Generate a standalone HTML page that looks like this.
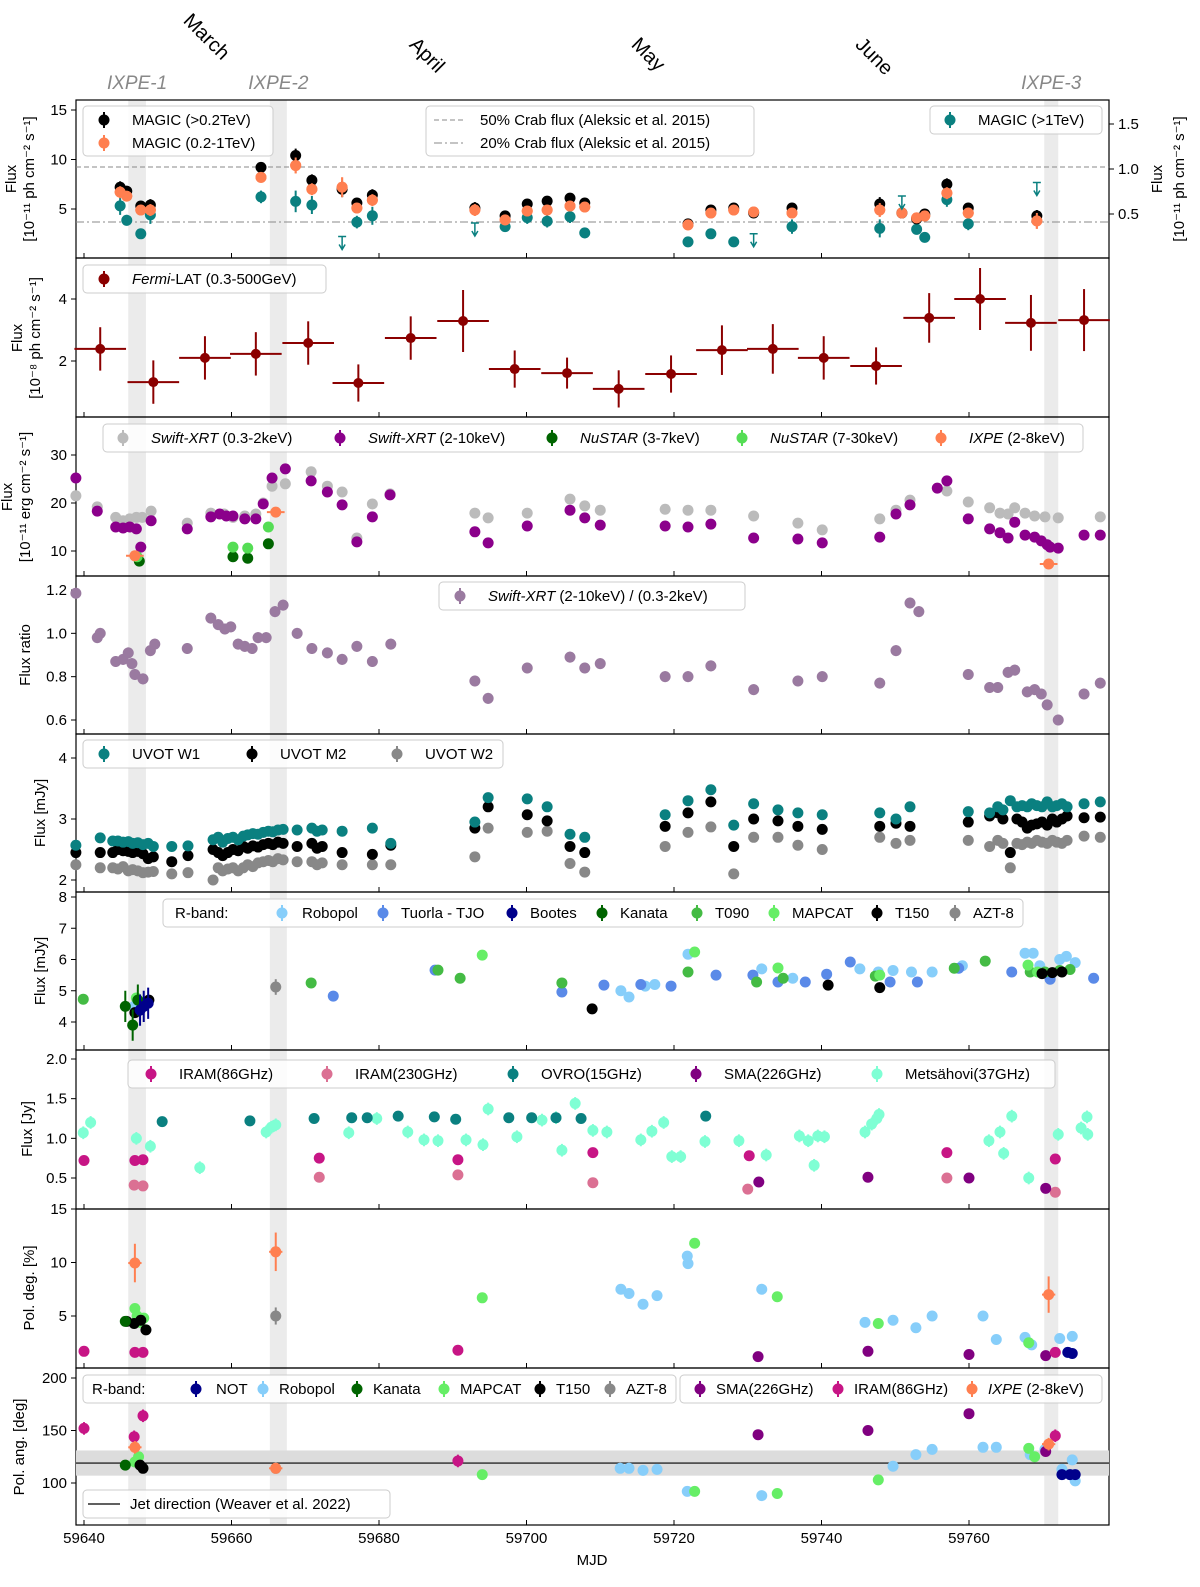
<!DOCTYPE html>
<html><head><meta charset="utf-8"><style>
body{margin:0;background:#fff}
svg{display:block;font-family:"Liberation Sans","DejaVu Sans",sans-serif}
</style></head><body>
<svg id="chart" width="1200" height="1587" viewBox="0 0 1200 1587" xmlns="http://www.w3.org/2000/svg"></svg>
<script>
// ---- data (MJD, value, error) ----
const magicHigh=[[59644.9,7.2,0.6],[59645.8,6.8,0.5],[59647.7,5.3,0.5],[59649.0,5.4,0.6],[59664.0,9.2,0.5],[59668.7,10.4,0.7],[59670.9,7.9,0.6],[59675.0,7.0,0.8],[59677.0,5.6,0.5],[59679.1,6.4,0.6],[59693.0,5.1,0.6],[59697.1,4.3,0.5],[59700.1,5.5,0.5],[59702.8,5.8,0.5],[59705.9,6.1,0.5],[59707.9,5.6,0.5],[59721.9,3.5,0.4],[59725.0,4.9,0.4],[59728.1,5.1,0.4],[59730.8,4.6,0.4],[59736.0,5.1,0.5],[59747.9,5.5,0.7],[59750.9,4.6,0.5],[59752.9,4.0,0.5],[59754.0,4.5,0.5],[59757.0,7.5,0.6],[59759.9,5.1,0.5],[59769.2,4.3,0.6]];
const magicLow=[[59644.9,6.7,0.6],[59645.8,6.3,0.5],[59647.7,4.9,0.5],[59649.0,4.9,0.6],[59664.0,8.2,0.5],[59668.7,9.4,0.8],[59670.9,7.0,0.6],[59675.0,7.2,1.0],[59677.0,5.1,0.5],[59679.1,5.9,0.6],[59693.0,4.9,0.6],[59697.1,3.9,0.5],[59700.1,4.8,0.5],[59702.8,4.9,0.5],[59705.9,5.3,0.5],[59707.9,5.2,0.5],[59721.9,3.4,0.4],[59725.0,4.6,0.4],[59728.1,4.9,0.4],[59730.8,4.7,0.4],[59736.0,4.6,0.5],[59747.9,4.9,0.7],[59750.9,4.6,0.5],[59752.9,4.1,0.5],[59754.0,4.3,0.5],[59757.0,6.6,0.6],[59759.9,4.6,0.5],[59769.2,3.8,0.8]];
const magicVhe=[[59644.9,0.59,0.1],[59645.8,0.43,0.06],[59647.7,0.28,0.04],[59649.0,0.49,0.1],[59664.0,0.69,0.07],[59668.7,0.64,0.12],[59670.9,0.60,0.1],[59677.0,0.41,0.07],[59679.1,0.48,0.1],[59697.1,0.36,0.06],[59700.1,0.46,0.07],[59702.8,0.42,0.07],[59705.9,0.47,0.07],[59707.9,0.29,0.06],[59721.9,0.19,0.05],[59725.0,0.28,0.05],[59728.1,0.19,0.04],[59736.0,0.36,0.08],[59747.9,0.34,0.1],[59752.9,0.33,0.06],[59754.0,0.24,0.05],[59757.0,0.66,0.08],[59759.9,0.39,0.07]];
const magicVheUL=[[59675.0,0.25],[59693.0,0.40],[59730.8,0.28],[59750.9,0.70],[59769.2,0.85]];
const fermi=[[59642.2,2.39,0.7],[59649.4,1.32,0.7],[59656.4,2.1,0.7],[59663.3,2.23,0.7],[59670.4,2.58,0.7],[59677.2,1.29,0.6],[59684.3,2.74,0.7],[59691.4,3.29,1.0],[59698.4,1.74,0.6],[59705.5,1.61,0.5],[59712.5,1.1,0.6],[59719.6,1.58,0.6],[59726.5,2.35,0.8],[59733.4,2.39,0.8],[59740.3,2.1,0.7],[59747.4,1.84,0.6],[59754.6,3.39,0.8],[59761.5,4.0,1.0],[59768.4,3.23,0.9],[59775.6,3.32,1.0]];
const fermiHalfWidth=3.5;
const xrtSoft=[[59638.9,21.5],[59641.8,19.2],[59644.3,17],[59645.3,16.3],[59646.2,16.7],[59647.1,17],[59647.9,17],[59649.1,18.3],[59654.0,15.8],[59657.2,17.9],[59659.0,17.7],[59660.2,17],[59661.8,17.3],[59663.3,17.7],[59664.3,20],[59665.5,23.5],[59667.3,24],[59670.8,26.5],[59673.0,23.5],[59675.0,22.3],[59677.0,12.7],[59679.1,19.8],[59681.5,21.9],[59693.0,17.9],[59694.8,16.9],[59700.1,17.9],[59705.9,20.8],[59707.9,19.4],[59710.0,18.5],[59718.8,18.7],[59721.9,18.5],[59725.0,18.5],[59730.8,17.3],[59736.8,15.8],[59740.1,14.4],[59747.9,16.7],[59750.1,18.5],[59752.0,20.6],[59757.0,22.5],[59759.9,20.2],[59762.8,19],[59764.2,17.9],[59765.3,17.7],[59766.2,19],[59767.6,17.9],[59768.9,17.3],[59770.3,17.1],[59772.1,16.9],[59777.8,17.1]];
const xrtHard=[[59638.9,25.2],[59641.8,18.3],[59644.3,15],[59645.3,14.8],[59646.2,15],[59647.1,14.6],[59647.7,10.8],[59649.1,16.3],[59654.0,14.6],[59657.2,17.1],[59658.4,17.7],[59659.3,17.3],[59660.2,17.3],[59661.8,16.7],[59663.3,16.7],[59664.3,19.8],[59665.5,25.2],[59667.3,27.1],[59670.8,24.6],[59673.0,22.3],[59675.0,19.6],[59677.0,11.9],[59679.1,17.1],[59681.5,21.7],[59693.0,14],[59694.8,11.7],[59700.1,15.2],[59705.9,18.5],[59707.9,16.9],[59710.0,15.4],[59718.8,15.2],[59721.9,15],[59725.0,15.6],[59730.8,12.7],[59736.8,12.5],[59740.1,11.7],[59747.9,12.9],[59750.1,17.7],[59752.0,19.6],[59755.7,23.1],[59757.0,24.6],[59759.9,16.7],[59762.8,14.6],[59764.2,13.8],[59765.3,12.7],[59766.2,16],[59767.6,13.3],[59768.9,12.9],[59769.8,12.1],[59770.6,11.3],[59771.0,10.8],[59772.1,10.6],[59775.6,13.3],[59777.8,13.3]];
const nustarSoft=[[59647.5,7.9],[59660.2,8.8],[59662.2,8.5],[59665.0,11.5]];
const nustarHard=[[59647.2,8.8],[59660.2,10.8],[59662.2,10.6],[59665.0,15]];
const ixpeFlux=[[59646.9,9.0],[59666.0,18.1],[59770.8,7.3]];
const hardness=[[59638.9,1.185],[59641.8,0.98],[59642.2,1.0],[59644.3,0.87],[59645.3,0.88],[59646.0,0.91],[59646.5,0.86],[59646.9,0.81],[59648.0,0.79],[59649.0,0.92],[59649.6,0.95],[59654.0,0.93],[59657.2,1.07],[59658.2,1.04],[59659.1,1.02],[59659.9,1.03],[59660.9,0.95],[59661.8,0.94],[59662.8,0.93],[59663.6,0.98],[59664.7,0.98],[59665.9,1.1],[59667.0,1.13],[59668.9,1.0],[59670.9,0.93],[59673.0,0.91],[59675.0,0.88],[59677.0,0.94],[59679.1,0.87],[59681.6,0.95],[59693.0,0.78],[59694.8,0.70],[59700.1,0.84],[59705.9,0.89],[59707.9,0.84],[59710.0,0.86],[59718.8,0.80],[59721.9,0.80],[59725.0,0.85],[59730.8,0.74],[59736.8,0.78],[59740.1,0.80],[59747.9,0.77],[59750.1,0.92],[59752.0,1.14],[59753.2,1.1],[59759.9,0.81],[59762.8,0.75],[59763.9,0.75],[59765.3,0.82],[59766.2,0.83],[59767.9,0.73],[59768.9,0.74],[59769.8,0.72],[59770.6,0.67],[59772.1,0.60],[59775.6,0.72],[59777.8,0.77]];
const uvotMjd=[59638.9,59642.2,59643.9,59644.6,59645.3,59646.0,59646.6,59647.3,59648.0,59648.7,59649.4,59651.9,59654.1,59657.5,59658.2,59658.8,59659.5,59660.2,59660.9,59661.6,59662.2,59662.9,59663.6,59664.3,59665.0,59665.6,59666.3,59667.0,59668.9,59670.9,59671.6,59672.3,59675.0,59679.1,59681.6,59693.0,59694.8,59700.1,59702.8,59705.9,59707.9,59718.8,59721.9,59725.0,59728.1,59730.8,59734.1,59736.8,59740.1,59747.9,59750.1,59752.0,59759.9,59762.8,59763.9,59764.6,59765.6,59766.5,59767.2,59767.9,59768.5,59769.2,59769.9,59770.6,59771.3,59771.9,59772.6,59773.3,59775.6,59777.8];
const uvotW1=[2.57,2.69,2.64,2.64,2.62,2.63,2.6,2.61,2.58,2.6,2.55,2.55,2.56,2.66,2.7,2.62,2.68,2.7,2.66,2.72,2.74,2.76,2.75,2.78,2.8,2.79,2.82,2.83,2.82,2.85,2.8,2.82,2.8,2.85,2.6,2.95,3.35,3.33,3.2,2.75,2.7,3.07,3.3,3.48,2.9,3.25,3.15,3.1,3.07,3.1,3.0,3.2,3.12,3.1,3.2,3.15,3.3,3.2,3.22,3.2,3.25,3.22,3.2,3.28,3.2,3.22,3.25,3.2,3.25,3.28];
const uvotM2=[2.45,2.45,2.45,2.5,2.48,2.47,2.45,2.47,2.43,2.35,2.38,2.3,2.4,2.5,2.45,2.4,2.45,2.5,2.48,2.55,2.52,2.56,2.54,2.58,2.6,2.58,2.62,2.6,2.55,2.6,2.52,2.55,2.45,2.42,2.57,2.85,3.2,3.07,2.97,2.55,2.45,2.88,3.1,3.28,2.55,3.0,2.97,2.88,2.83,2.88,2.93,2.88,2.95,3.05,3.1,3.0,2.45,3.0,2.95,2.85,2.9,2.92,2.95,2.9,3.0,2.95,3.0,3.05,3.02,3.03];
const uvotW2=[2.25,2.2,2.2,2.18,2.22,2.15,2.17,2.15,2.12,2.13,2.14,2.1,2.12,2.0,2.2,2.15,2.18,2.2,2.15,2.2,2.25,2.22,2.28,2.3,2.32,2.3,2.35,2.33,2.3,2.3,2.25,2.28,2.25,2.25,2.25,2.38,2.85,2.78,2.8,2.27,2.13,2.55,2.78,2.87,2.1,2.7,2.7,2.57,2.5,2.7,2.6,2.65,2.65,2.55,2.65,2.6,2.2,2.6,2.58,2.62,2.6,2.65,2.62,2.6,2.65,2.62,2.6,2.65,2.72,2.7];
const rRobopol=[[59646.8,4.5],[59712.8,5.0],[59713.9,4.8],[59716.1,5.15],[59717.4,5.2],[59721.9,6.17],[59731.9,5.7],[59736.1,5.4],[59745.2,5.7],[59747.7,5.6],[59749.7,5.65],[59752.2,5.6],[59755.0,5.6],[59759.1,5.8],[59767.6,6.2],[59768.7,6.2],[59769.6,5.8],[59772.3,6.0],[59773.2,6.1],[59774.4,5.9]];
const rTuorla=[[59673.8,4.83],[59687.6,5.66],[59704.8,4.96],[59710.5,5.18],[59715.5,5.2],[59719.6,5.15],[59725.7,5.5],[59730.7,5.5],[59734.1,5.28],[59737.8,5.28],[59740.7,5.53],[59743.9,5.92],[59749.3,5.28],[59753.0,5.28],[59758.6,5.72],[59765.8,5.6],[59771.0,5.37],[59776.9,5.4]];
const rBootes=[[59647.6,4.38],[59648.1,4.5],[59648.7,4.6]];
const rKanata=[[59645.6,4.5],[59646.6,3.9],[59647.3,4.7]];
const rT090=[[59639.9,4.73],[59670.8,5.25],[59688.0,5.66],[59691.0,5.4],[59704.8,5.25],[59721.9,5.6],[59731.2,5.28],[59734.8,5.4],[59747.3,5.47],[59758.0,5.72],[59762.2,5.95],[59768.3,5.6],[59770.3,5.6],[59772.3,5.65],[59773.7,5.68]];
const rMapcat=[[59647.1,4.77],[59694.0,6.14],[59722.8,6.24],[59734.1,5.73],[59747.9,5.5],[59768.0,5.82],[59769.3,5.6]];
const rT150=[[59646.9,4.3],[59648.8,4.7],[59708.9,4.42],[59740.9,5.18],[59747.9,5.1],[59769.9,5.55],[59771.3,5.58],[59772.6,5.6]];
const rAzt=[[59666.0,5.12]];
const iram86=[[59640.0,0.72],[59646.9,0.72],[59648.0,0.73],[59671.9,0.75],[59690.7,0.73],[59709.0,0.82],[59730.2,0.78],[59757.0,0.82],[59771.7,0.74]];
const iram230=[[59646.8,0.41],[59648.0,0.40],[59671.9,0.51],[59690.7,0.54],[59709.0,0.44],[59730.0,0.36],[59757.0,0.50],[59771.7,0.32]];
const ovro=[[59650.6,1.21],[59662.5,1.22],[59671.2,1.25],[59676.3,1.26],[59678.4,1.26],[59682.6,1.28],[59687.5,1.27],[59690.4,1.24],[59697.6,1.26],[59700.7,1.26],[59704.0,1.26],[59707.4,1.25],[59724.3,1.28]];
const sma=[[59731.5,0.45],[59746.3,0.51],[59760.0,0.5],[59770.4,0.37]];
const metsahovi=[[59639.9,1.07],[59640.9,1.2],[59647.1,1.0],[59649.0,0.9],[59655.7,0.63],[59664.7,1.08],[59665.4,1.14],[59666.0,1.17],[59675.9,1.07],[59679.7,1.25],[59683.9,1.08],[59686.1,0.98],[59688.0,0.97],[59691.8,0.98],[59694.1,0.92],[59694.8,1.37],[59698.7,1.02],[59702.1,1.23],[59704.0,1.26],[59704.8,0.85],[59706.6,1.44],[59709.0,1.1],[59710.9,1.08],[59715.5,0.98],[59717.0,1.09],[59718.6,1.2],[59719.7,0.77],[59720.9,0.77],[59724.2,0.96],[59728.8,0.97],[59732.5,0.79],[59737.0,1.03],[59738.2,0.97],[59739.0,0.66],[59739.5,1.03],[59740.4,1.02],[59745.9,1.08],[59746.8,1.18],[59747.5,1.25],[59747.8,1.3],[59762.7,0.97],[59764.2,1.08],[59764.7,0.81],[59765.8,1.28],[59768.1,0.5],[59772.1,1.05],[59775.2,1.13],[59776.0,1.27],[59776.1,1.05]];
const pdIxpe=[[59646.9,9.95,1.8],[59666.0,11.0,1.8],[59770.8,7.0,1.7]];
const pdAzt=[[59666.0,5.0]];
const pdRobopol=[[59712.8,7.5],[59713.9,7.1],[59715.8,6.1],[59717.7,6.9],[59721.8,10.6],[59721.9,9.9],[59731.9,7.5],[59745.9,4.4],[59749.7,4.6],[59752.8,3.9],[59755.0,5.0],[59761.9,5.0],[59763.7,2.8],[59767.6,3.0],[59768.5,2.3],[59772.3,2.9],[59774.0,3.1],[59773.4,1.6]];
const pdMapcat=[[59646.9,5.7],[59647.2,5.0],[59647.6,4.4],[59648.1,4.8],[59694.0,6.7],[59722.8,11.8],[59734.0,6.8],[59747.7,4.3],[59768.1,2.5]];
const pdT150=[[59645.8,4.5],[59646.8,4.3],[59647.7,4.6],[59648.4,3.7]];
const pdKanata=[[59645.6,4.5]];
const pdSma=[[59731.4,1.2],[59746.3,1.7],[59760.0,1.4],[59770.4,1.3]];
const pdIram=[[59640.0,1.7],[59646.9,1.6],[59648.0,1.6],[59690.7,1.8],[59771.7,1.6]];
const pdNot=[[59773.4,1.6],[59774.0,1.5]];
const paIxpe=[[59646.9,134,6],[59666.0,114,3],[59770.8,137,6]];
const paIram=[[59640.0,152],[59646.8,144],[59648.0,164],[59690.7,121],[59771.7,145]];
const paSma=[[59731.4,146],[59746.3,150],[59760.0,166],[59770.4,130]];
const paRobopol=[[59712.7,114],[59713.9,114],[59715.8,112],[59717.7,113],[59721.8,92],[59731.9,88],[59749.7,116],[59752.8,127],[59755.0,132],[59761.9,134],[59763.7,134],[59768.3,127],[59770.3,132],[59772.6,113],[59773.7,108],[59774.4,102],[59774.0,122]];
const paMapcat=[[59646.9,120],[59647.4,125],[59694.0,108],[59722.8,92],[59734.0,90],[59747.7,103],[59768.1,133],[59768.9,125]];
const paKanata=[[59645.6,117]];
const paT150=[[59647.6,117],[59648.0,114]];
const paAzt=[[59666.0,114]];
const paNot=[[59772.6,108],[59773.7,108],[59774.4,108]];
const jetAngle=119, jetBand=12;
const xTicks=[59640,59660,59680,59700,59720,59740,59760];
const ixpeWindows=[[59646.0,59648.4,"IXPE-1"],[59665.2,59667.5,"IXPE-2"],[59770.2,59772.1,"IXPE-3"]];

// ---- drawing ----
const NS="http://www.w3.org/2000/svg";
const svg=document.getElementById('chart');
const X0=76,X1=1109;
function X(m){return 84+(m-59640)*7.375;}
function lin(v0,p0,v1,p1){return v=>p0+(v-v0)*(p1-p0)/(v1-v0);}
function el(tag,attrs,parent){const e=document.createElementNS(NS,tag);for(const k in attrs)e.setAttribute(k,attrs[k]);(parent||svg).appendChild(e);return e;}
function txt(x,y,s,attrs,parent){const t=el('text',Object.assign({x:x,y:y,'font-size':15,fill:'#000'},attrs||{}),parent);t.textContent=s;return t;}

const panels=[
 {top:100,bot:258,name:'magic-panel',y:lin(5,209,15,110),ticks:[5,10,15]},
 {top:258,bot:417,name:'fermi-panel',y:lin(2,361,4,299),ticks:[2,4]},
 {top:417,bot:576,name:'xray-panel',y:lin(10,551,30,455),ticks:[10,20,30]},
 {top:576,bot:734,name:'ratio-panel',y:lin(0.6,720,1.2,590),ticks:[0.6,0.8,1.0,1.2],fmt:1},
 {top:734,bot:892,name:'uvot-panel',y:lin(2,880,4,758),ticks:[2,3,4]},
 {top:892,bot:1050,name:'rband-panel',y:lin(4,1022,8,897),ticks:[4,5,6,7,8]},
 {top:1050,bot:1209,name:'radio-panel',y:lin(0.5,1178,2.0,1059),ticks:[0.5,1.0,1.5,2.0],fmt:1},
 {top:1209,bot:1368,name:'poldeg-panel',y:lin(5,1316,15,1209),ticks:[5,10,15]},
 {top:1368,bot:1525,name:'polang-panel',y:lin(100,1483,200,1378),ticks:[100,150,200]}
];
ixpeWindows.forEach(w=>{
 const b=el('rect',{x:X(w[0]),y:100,width:X(w[1])-X(w[0]),height:1425,fill:'#ebebeb'});
 
 
 const t=txt((X(w[0])+X(w[1]))/2,89,w[2],{'font-size':19,'font-style':'italic',fill:'#888','text-anchor':'middle'});
 
 
});
[["March",192,12],["April",418,36],["May",640,36],["June",864,36]].forEach(m=>{
 const t=txt(m[1],m[2],m[0],{'font-size':20,transform:`rotate(45 ${m[1]} ${m[2]})`,'dominant-baseline':'hanging'});
 
 
});
panels.forEach((p,i)=>{
 const g=el('g',{});
 
 
 p.g=g;
 el('rect',{x:X0,y:p.top,width:X1-X0,height:p.bot-p.top,fill:'none',stroke:'#000','stroke-width':1.2},g);
 p.ticks.forEach(v=>{const yy=p.y(v);el('line',{x1:X0-5,x2:X0,y1:yy,y2:yy,stroke:'#000'},g);
  const t=txt(X0-9,yy+5,p.fmt?v.toFixed(1):String(v),{'text-anchor':'end'},g);
  
  });
 xTicks.forEach(m=>{el('line',{x1:X(m),x2:X(m),y1:p.bot,y2:p.bot-5,stroke:'#000'},g);});
});
xTicks.forEach(m=>{const t=txt(X(m),1543,String(m),{'text-anchor':'middle'});
 
 });
const xl=txt(592,1565,'MJD',{'text-anchor':'middle'});


function ytitle(cy,lines,xs,name){lines.forEach((s,i)=>{const x=xs[i];const t=txt(x,cy,s,{'text-anchor':'middle',transform:`rotate(-90 ${x} ${cy})`});
 
 });}
ytitle(179,['Flux','[10⁻¹¹ ph cm⁻² s⁻¹]'],[16,34],'y-axis-title-magic');
ytitle(338,['Flux','[10⁻⁸ ph cm⁻² s⁻¹]'],[22,40],'y-axis-title-fermi');
ytitle(497,['Flux','[10⁻¹¹ erg cm⁻² s⁻¹]'],[12,30],'y-axis-title-xray');
ytitle(655,['Flux ratio'],[30],'y-axis-title-ratio');
ytitle(813,['Flux [mJy]'],[45],'y-axis-title-uvot');
ytitle(971,['Flux [mJy]'],[45],'y-axis-title-rband');
ytitle(1129,['Flux [Jy]'],[32],'y-axis-title-radio');
ytitle(1288,['Pol. deg. [%]'],[34],'y-axis-title-poldeg');
ytitle(1447,['Pol. ang. [deg]'],[24],'y-axis-title-polang');
ytitle(179,['Flux','[10⁻¹¹ ph cm⁻² s⁻¹]'],[1162,1184],'y-axis-title-right');
const yR=lin(0.5,214,1.5,124);
[0.5,1.0,1.5].forEach(v=>{el('line',{x1:X1,x2:X1+5,y1:yR(v),y2:yR(v),stroke:'#000'});
 const t=txt(X1+9,yR(v)+5,v.toFixed(1));
 
 });
const crab50=el('line',{x1:X0,x2:X1,y1:167,y2:167,stroke:'#888','stroke-dasharray':'5,3'});


const crab20=el('line',{x1:X0,x2:X1,y1:222,y2:222,stroke:'#888','stroke-dasharray':'8,3,2,3'});


const jb=el('rect',{x:X0,y:panels[8].y(jetAngle+jetBand),width:X1-X0,height:panels[8].y(jetAngle-jetBand)-panels[8].y(jetAngle+jetBand),fill:'#dcdcdc'});


const jl=el('line',{x1:X0,x2:X1,y1:panels[8].y(jetAngle),y2:panels[8].y(jetAngle),stroke:'#000','stroke-width':1.2});



function series(pi,data,color,name,defErr,ys,xerr){
 const p=panels[pi];const yf=ys||p.y;
 data.forEach(d=>{
  const cx=X(d[0]),cy=yf(d[1]);const e=d.length>2?d[2]:defErr;
  if(e){el('line',{x1:cx,x2:cx,y1:yf(d[1]-e),y2:yf(d[1]+e),stroke:color,'stroke-width':2});}
  if(xerr){el('line',{x1:X(d[0]-xerr),x2:X(d[0]+xerr),y1:cy,y2:cy,stroke:color,'stroke-width':2});}
  const c=el('circle',{cx:cx,cy:cy,r:pi==1?5:5.5,fill:color});
  
  
 });
}
const C={black:'#000',orange:'#ff7f50',teal:'#0a8080',dred:'#8b0000',lgrey:'#bbb',purple:'#8b008b',dgreen:'#006400',lgreen:'#55dd55',mauve:'#9a7aa0',grey:'#888',lblue:'#87cefa',blue:'#5a8ae8',navy:'#00008b',green:'#44bb44',mgreen:'#66ee66',magenta:'#c71585',pink:'#db7093',mint:'#7fffd4',dpurple:'#800080'};
series(0,magicVhe,C.teal,'magic-1tev-point',0,yR);
series(0,magicLow,C.orange,'magic-0.2-1tev-point');
series(0,magicHigh,C.black,'magic-0.2tev-point');
series(0,magicLow,C.orange,'magic-0.2-1tev-point',0.0001);
magicVheUL.forEach(d=>{const cx=X(d[0]),cy=yR(d[1]);
 const a=el('path',{d:`M${cx-4} ${cy}H${cx+4}M${cx} ${cy}V${cy+12}M${cx-3} ${cy+8}L${cx} ${cy+13}L${cx+3} ${cy+8}`,stroke:C.teal,'stroke-width':1.5,fill:'none'});
 
 });
series(1,fermi,C.dred,'fermi-point',0,null,fermiHalfWidth);
series(2,xrtSoft,C.lgrey,'xrt-soft-point',0.3);
series(2,xrtHard,C.purple,'xrt-hard-point',0.3);
series(2,nustarSoft,C.dgreen,'nustar-soft-point',0.2);
series(2,nustarHard,C.lgreen,'nustar-hard-point',0.2);
series(2,ixpeFlux,C.orange,'ixpe-flux-point',0.3,null,1.2);
series(3,hardness,C.mauve,'hardness-ratio-point',0.025);
const w2=uvotMjd.map((m,i)=>[m,uvotW2[i]]),m2=uvotMjd.map((m,i)=>[m,uvotM2[i]]),w1=uvotMjd.map((m,i)=>[m,uvotW1[i]]);
series(4,w2,C.grey,'uvot-w2-point',0.05);
series(4,m2,C.black,'uvot-m2-point',0.05);
series(4,w1,C.teal,'uvot-w1-point',0.05);
series(5,rRobopol,C.lblue,'robopol-flux-point',0.15);
series(5,rTuorla,C.blue,'tuorla-flux-point',0.1);
series(5,rT090,C.green,'t090-flux-point',0.1);
series(5,rMapcat,C.mgreen,'mapcat-flux-point',0.15);
series(5,rT150,C.black,'t150-flux-point',0.1);
series(5,rKanata,C.dgreen,'kanata-flux-point',0.5);
series(5,rBootes,C.navy,'bootes-flux-point',0.5);
series(5,rAzt,C.grey,'azt8-flux-point',0.25);
series(6,metsahovi,C.mint,'metsahovi-point',0.08);
series(6,ovro,C.teal,'ovro-point',0.01);
series(6,iram86,C.magenta,'iram86-point',0.02);
series(6,iram230,C.pink,'iram230-point',0.02);
series(6,sma,C.dpurple,'sma-point',0.02);
series(7,pdRobopol,C.lblue,'robopol-poldeg-point',0.3);
series(7,pdMapcat,C.mgreen,'mapcat-poldeg-point',0.4);
series(7,pdT150,C.black,'t150-poldeg-point',0.4);
series(7,pdKanata,C.dgreen,'kanata-poldeg-point',0.3);
series(7,pdAzt,C.grey,'azt8-poldeg-point',0.8);
series(7,pdSma,C.dpurple,'sma-poldeg-point',0.2);
series(7,pdIram,C.magenta,'iram-poldeg-point',0.4);
series(7,pdNot,C.navy,'not-poldeg-point',0.2);
series(7,pdIxpe,C.orange,'ixpe-poldeg-point',0,null,0.9);
series(8,paRobopol,C.lblue,'robopol-polang-point',3);
series(8,paMapcat,C.mgreen,'mapcat-polang-point',3);
series(8,paKanata,C.dgreen,'kanata-polang-point',2);
series(8,paT150,C.black,'t150-polang-point',3);
series(8,paAzt,C.grey,'azt8-polang-point',2);
series(8,paNot,C.navy,'not-polang-point',2);
series(8,paSma,C.dpurple,'sma-polang-point',4);
series(8,paIram,C.magenta,'iram-polang-point',6);
series(8,paIxpe,C.orange,'ixpe-polang-point',0,null,0.9);

function legend(x,y,w,h,name){const r=el('rect',{x:x,y:y,width:w,height:h,rx:4,fill:'#fff','fill-opacity':0.85,stroke:'#ccc'});
 
 }
function entry(x,y,color,label,italicPrefix,name,gap){
 if(color){el('line',{x1:x,x2:x,y1:y-8,y2:y+8,stroke:color,'stroke-width':2});el('circle',{cx:x,cy:y,r:5.5,fill:color});}
 const t=el('text',{x:x+(color?(gap||28):0),y:y+5,'font-size':15});
 
 
 if(italicPrefix){const a=el('tspan',{'font-style':'italic'},t);a.textContent=italicPrefix;const b=el('tspan',{},t);b.textContent=label;}else t.textContent=label;
 return t;
}
legend(83,106,190,50,'magic-legend');
entry(104,120,C.black,'MAGIC (>0.2TeV)',null,'legend-entry');
entry(104,143,C.orange,'MAGIC (0.2-1TeV)',null,'legend-entry');
legend(426,106,328,50,'crab-legend');
el('line',{x1:434,x2:466,y1:120,y2:120,stroke:'#888','stroke-dasharray':'5,3'});
el('line',{x1:434,x2:466,y1:143,y2:143,stroke:'#888','stroke-dasharray':'8,3,2,3'});
entry(480,120,null,'50% Crab flux (Aleksic et al. 2015)',null,'legend-entry');
entry(480,143,null,'20% Crab flux (Aleksic et al. 2015)',null,'legend-entry');
legend(930,106,172,28,'magic-vhe-legend');
entry(950,120,C.teal,'MAGIC (>1TeV)',null,'legend-entry');
legend(83,265,243,28,'fermi-legend');
entry(104,279,C.dred,'-LAT (0.3-500GeV)','Fermi','legend-entry');
legend(103,424,980,28,'xray-legend');
entry(123,438,C.lgrey,' (0.3-2keV)','Swift-XRT','legend-entry');
entry(340,438,C.purple,' (2-10keV)','Swift-XRT','legend-entry');
entry(552,438,C.dgreen,' (3-7keV)','NuSTAR','legend-entry');
entry(742,438,C.lgreen,' (7-30keV)','NuSTAR','legend-entry');
entry(941,438,C.orange,' (2-8keV)','IXPE','legend-entry');
legend(439,582,306,28,'ratio-legend');
entry(460,596,C.mauve,' (2-10keV) / (0.3-2keV)','Swift-XRT','legend-entry');
legend(83,740,420,28,'uvot-legend');
entry(104,754,C.teal,'UVOT W1',null,'legend-entry');
entry(252,754,C.black,'UVOT M2',null,'legend-entry');
entry(397,754,C.grey,'UVOT W2',null,'legend-entry');
legend(163,899,860,28,'rband-legend');
txt(175,918,'R-band:');
entry(282,913,C.lblue,'Robopol',null,'legend-entry',20);
entry(383,913,C.blue,'Tuorla - TJO',null,'legend-entry',18);
entry(512,913,C.navy,'Bootes',null,'legend-entry',18);
entry(602,913,C.dgreen,'Kanata',null,'legend-entry',18);
entry(697,913,C.green,'T090',null,'legend-entry',18);
entry(774,913,C.mgreen,'MAPCAT',null,'legend-entry',18);
entry(877,913,C.black,'T150',null,'legend-entry',18);
entry(955,913,C.grey,'AZT-8',null,'legend-entry',18);
legend(128,1060,927,28,'radio-legend');
entry(151,1074,C.magenta,'IRAM(86GHz)',null,'legend-entry',28);
entry(327,1074,C.pink,'IRAM(230GHz)',null,'legend-entry',28);
entry(513,1074,C.teal,'OVRO(15GHz)',null,'legend-entry',28);
entry(696,1074,C.dpurple,'SMA(226GHz)',null,'legend-entry',28);
entry(877,1074,C.mint,'Metsähovi(37GHz)',null,'legend-entry',28);
legend(83,1375,593,28,'rband-pol-legend');
txt(92,1394,'R-band:');
entry(196,1389,C.navy,'NOT',null,'legend-entry',20);
entry(263,1389,C.lblue,'Robopol',null,'legend-entry',16);
entry(357,1389,C.dgreen,'Kanata',null,'legend-entry',16);
entry(444,1389,C.mgreen,'MAPCAT',null,'legend-entry',16);
entry(540,1389,C.black,'T150',null,'legend-entry',16);
entry(610,1389,C.grey,'AZT-8',null,'legend-entry',16);
legend(680,1375,422,28,'other-pol-legend');
entry(700,1389,C.dpurple,'SMA(226GHz)',null,'legend-entry',16);
entry(838,1389,C.magenta,'IRAM(86GHz)',null,'legend-entry',16);
entry(972,1389,C.orange,' (2-8keV)','IXPE','legend-entry',16);
legend(83,1490,307,28,'jet-legend');
el('line',{x1:88,x2:120,y1:1504,y2:1504,stroke:'#000','stroke-width':1.2});
entry(130,1504,null,'Jet direction (Weaver et al. 2022)',null,'legend-entry');
</script>
</body></html>
